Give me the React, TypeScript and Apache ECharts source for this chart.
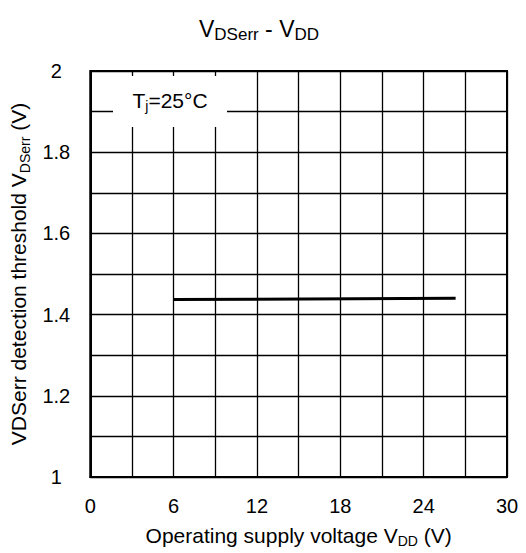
import React, { useEffect, useRef } from "react";
import * as echarts from "echarts";

const vdd = [6, 26.3];
const vdsErr = [1.437, 1.44];
const xTickLabels = ["0", "6", "12", "18", "24", "30"];
const yTickLabels = ["1", "1.2", "1.4", "1.6", "1.8", "2"];

const FONT = "'Liberation Sans', Arial, sans-serif";

export default function App() {
  const ref = useRef<HTMLDivElement>(null);
  useEffect(() => {
    if (!ref.current) return;
    const chart = echarts.init(ref.current, null, { renderer: "svg" });
    const sub = { fontSize: 14, fontFamily: FONT, color: "#000", lineHeight: 12, verticalAlign: "bottom" as const };
    const main = { fontSize: 21, fontFamily: FONT, color: "#000", lineHeight: 26, verticalAlign: "middle" as const };
    const tsub = { fontSize: 17, fontFamily: FONT, color: "#000", lineHeight: 14, verticalAlign: "bottom" as const };
    const tmain = { fontSize: 23, fontFamily: FONT, color: "#000", lineHeight: 28, verticalAlign: "middle" as const };
    chart.setOption({
      animation: false,
      backgroundColor: "#fff",
      textStyle: { fontFamily: FONT },
      grid: { left: 86, right: 19, top: 71, bottom: 71, show: true, borderColor: "#000", borderWidth: 2, containLabel: false },
      graphic: [
        {
          type: "text",
          x: 259,
          y: 29,
          style: {
            text: "{m|V}{s|DSerr}{m| - V}{s|DD}",
            align: "center",
            verticalAlign: "middle",
            rich: { m: tmain, s: tsub },
          },
        },
        {
          type: "rect",
          shape: { x: 113, y: 76, width: 114, height: 51 },
          style: { fill: "#fff" },
          z: 100,
        },
        {
          type: "text",
          x: 170,
          y: 100,
          z: 101,
          style: {
            text: "{m|T}{s|j}{m|=25°C}",
            align: "center",
            verticalAlign: "middle",
            rich: { m: main, s: sub },
          },
        },
      ],
      xAxis: {
        type: "value",
        min: 0,
        max: 30,
        interval: 3,
        name: "{m|Operating supply voltage V}{s|DD}{m| (V)}",
        nameLocation: "middle",
        nameGap: 45,
        nameTextStyle: { rich: { m: main, s: sub } },
        axisLine: { show: true, lineStyle: { color: "#000", width: 2 } },
        axisTick: { show: false },
        axisLabel: {
          fontSize: 20,
          color: "#000",
          fontFamily: FONT,
          margin: 19,
          formatter: (v: number) => {
            const s = String(Math.round(v));
            return xTickLabels.includes(s) ? s : "";
          },
        },
        splitLine: { show: true, lineStyle: { color: "#000", width: 1.3 } },
      },
      yAxis: {
        type: "value",
        min: 1,
        max: 2,
        interval: 0.1,
        name: "{m|VDSerr detection threshold V}{s|DSerr}{m| (V)}",
        nameLocation: "middle",
        nameGap: 50,
        nameRotate: 90,
        nameTextStyle: { rich: { m: main, s: sub } },
        axisLine: { show: true, lineStyle: { color: "#000", width: 2 } },
        axisTick: { show: false },
        axisLabel: {
          fontSize: 20,
          color: "#000",
          fontFamily: FONT,
          margin: 34,
          align: "center",
          formatter: (v: number) => {
            const s = String(Math.round(v * 10) / 10);
            return yTickLabels.includes(s) ? s : "";
          },
        },
        splitLine: { show: true, lineStyle: { color: "#000", width: 1.3 } },
      },
      series: [
        {
          type: "line",
          data: vdd.map((x, i) => [x, vdsErr[i]]),
          showSymbol: false,
          symbol: "none",
          lineStyle: { color: "#000", width: 3 },
          z: 10,
        },
      ],
    });
    return () => chart.dispose();
  }, []);
  return <div ref={ref} style={{ width: 526, height: 553, position: "absolute", left: 0, top: 0 }} />;
}
